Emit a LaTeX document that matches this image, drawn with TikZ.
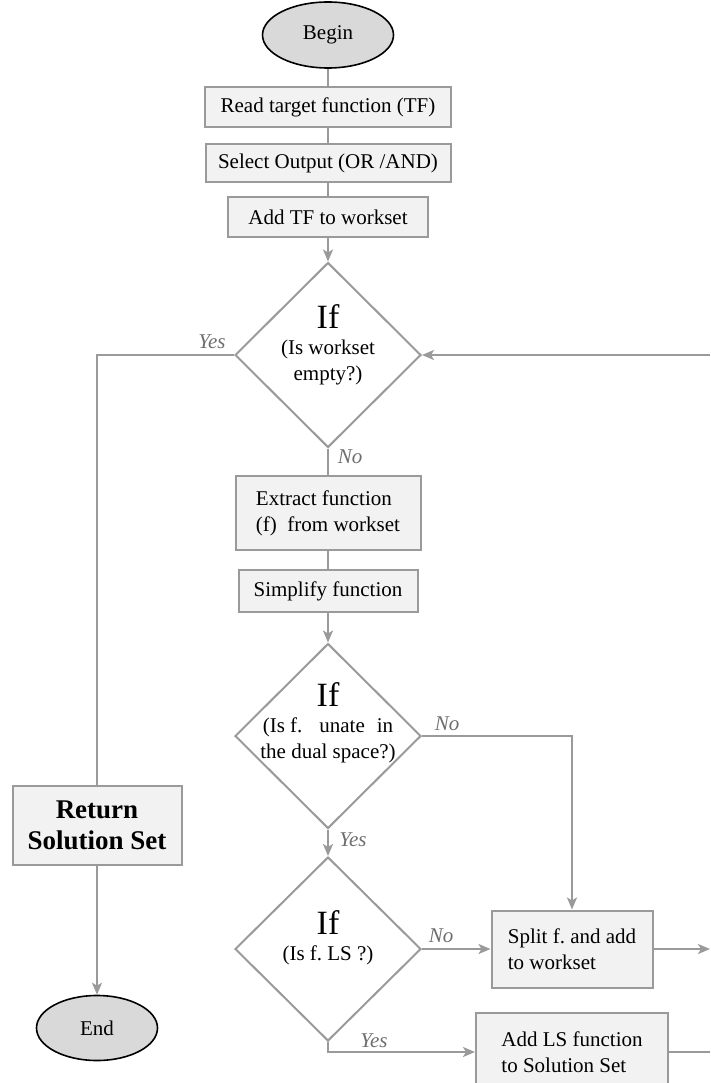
\documentclass[tikz,border=0pt]{standalone}
\usepackage{fontspec}
\setmainfont{Liberation Serif}
\usetikzlibrary{shapes.geometric,arrows.meta,calc}
\frenchspacing
\definecolor{flowGrey}{HTML}{9A9A9A}
\definecolor{boxFill}{HTML}{F2F2F2}
\definecolor{termFill}{HTML}{D9D9D9}
\definecolor{labelGrey}{HTML}{6E6E6E}
\tikzset{
  procbox/.style={
    rectangle, draw=flowGrey, line width=2pt, fill=boxFill,
    inner sep=0pt, align=left, font=\fontsize{21}{26}\selectfont
  },
  termnode/.style={ellipse, draw=black, line width=1.6pt, fill=termFill,
    inner sep=0pt, font=\fontsize{21}{26}\selectfont},
  decision/.style={diamond, draw=flowGrey, line width=2pt, fill=white, inner sep=0pt},
  decisiontext/.style={align=center, inner sep=0pt, font=\fontsize{21}{26}\selectfont},
  flowline/.style={draw=flowGrey, line width=2pt},
  flowarrow/.style={flowline, -{Stealth[length=12pt,width=10pt,inset=3pt]}},
  branchlabel/.style={font=\fontsize{21}{26}\selectfont\itshape, text=labelGrey, inner sep=0pt},
}
\newcommand{\iftitle}{{\fontsize{34}{34}\selectfont If}}

\begin{document}
\begin{tikzpicture}[x=1pt,y=-1pt]

% --- geometry ---------------------------------------------------------------
\def\colM{328}    % main column
\def\colL{97}     % return column
\def\colR{572}    % split column
\def\edgeX{710}   % right page edge

\clip (0,0) rectangle (710,1083);

% --- start and preparation --------------------------------------------------
\node[termnode, minimum width=131, minimum height=66] (begin) at (\colM,35) {Begin};
\node[procbox, minimum width=246, minimum height=40] (read) at (\colM,107) {Read target function (TF)};
\node[procbox, minimum width=245, minimum height=38] (select) at (\colM,163) {Select Output (OR /AND)};
\node[procbox, minimum width=200, minimum height=40] (addtf) at (\colM,217) {Add TF to workset};

% --- first test: workset empty? ---------------------------------------------
\node[decision, minimum width=186, minimum height=185] (q1) at (\colM,355) {};
\node[decisiontext] (q1txt) at (\colM,345) {\iftitle\\(Is workset\\empty?)};

\node[procbox, minimum width=185, minimum height=74] (extract) at (\colM,513) {Extract function\\(f)\ \ from workset};
\node[procbox, minimum width=179, minimum height=42] (simplify) at (\colM,591) {Simplify function};

% --- second test: unate? ----------------------------------------------------
\node[decision, minimum width=186, minimum height=185] (q2) at (\colM,736) {};
\node[decisiontext] (q2txt) at (\colM,723) {\iftitle\\(Is f.\hskip 17pt unate\hskip 12pt in\\the dual space?)};

% --- third test: LS? --------------------------------------------------------
\node[decision, minimum width=186, minimum height=184] (q3) at (\colM,949) {};
\node[decisiontext] (q3txt) at (\colM,938) {\iftitle\\(Is f. LS ?)};

\node[procbox, minimum width=161, minimum height=77] (split) at (\colR,949) {Split f. and add\\to workset};
\node[procbox, minimum width=192, minimum height=78] (addls) at (\colR,1052) {Add LS function\\to Solution Set};

% --- exit -------------------------------------------------------------------
\node[procbox, align=center, minimum width=169, minimum height=79,
  font=\fontsize{27}{31}\selectfont\bfseries] (ret) at (\colL,825) {Return\\Solution Set};
\node[termnode, minimum width=121, minimum height=65] (end) at (\colL,1028) {End};

% free ends on the right edge
\coordinate (loopin) at (\edgeX,355);
\coordinate (splitout) at (\edgeX,949);
\coordinate (addlsout) at (\edgeX,1052);

% --- connectors -------------------------------------------------------------
\draw[flowline] (begin) -- (read);
\draw[flowline] (read) -- (select);
\draw[flowline] (select) -- (addtf);
\draw[flowarrow] (addtf) -- (q1.north);
\draw[flowline] (q1.south) -- (extract);
\draw[flowline] (extract) -- (simplify);
\draw[flowarrow] (simplify) -- (q2.north);
\draw[flowarrow] (q2.south) -- (q3.north);
\draw[flowarrow] (q2.east) -| (split.north);
\draw[flowarrow] (q3.east) -- (split.west);
\draw[flowarrow] (q3.south) |- (addls.west);
\draw[flowline] (q1.west) -| (ret.north);
\draw[flowarrow] (ret) -- (end);
\draw[flowarrow] (loopin) -- (q1.east);
\draw[flowarrow] (split) -- (splitout);
\draw[flowline] (addls) -- (addlsout);

% --- branch labels ----------------------------------------------------------
\node[branchlabel] (yes1) at (212,342) {Yes};
\node[branchlabel] (no1) at (350,457) {No};
\node[branchlabel] (no2) at (447,724) {No};
\node[branchlabel] (yes2) at (353,840) {Yes};
\node[branchlabel] (no3) at (441,936) {No};
\node[branchlabel] (yes3) at (374,1041) {Yes};

\end{tikzpicture}
\end{document}
